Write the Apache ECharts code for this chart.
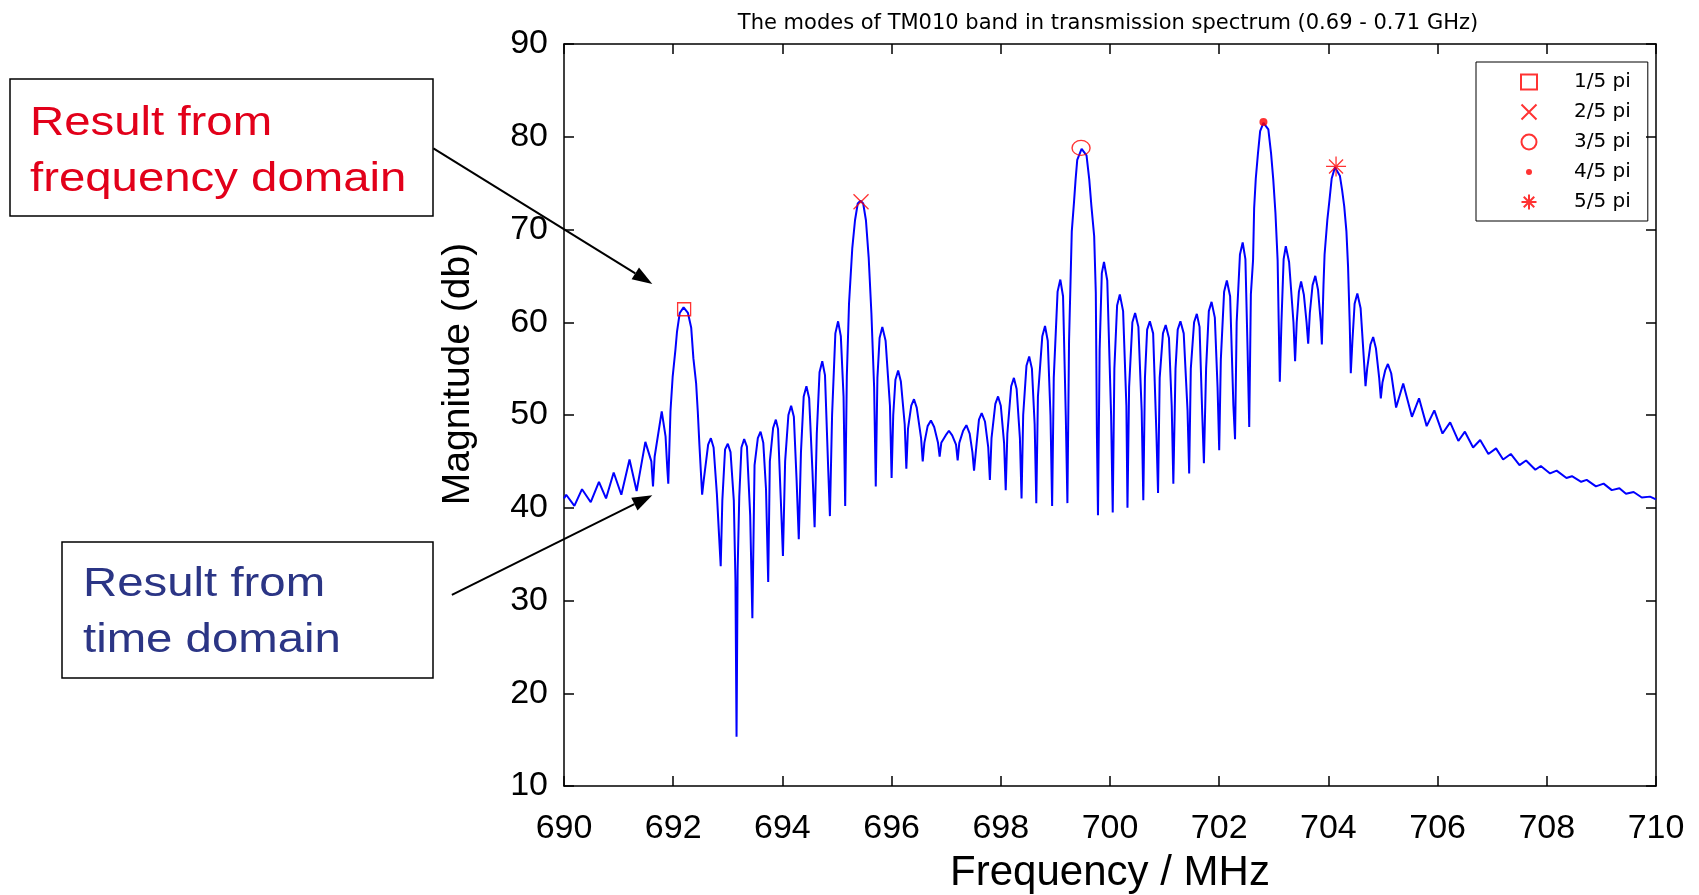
<!DOCTYPE html>
<html><head><meta charset="utf-8">
<script src="https://cdn.jsdelivr.net/npm/echarts@6/dist/echarts.min.js"></script>
<style>html,body{margin:0;padding:0;background:#fff}#c{width:1699px;height:895px}</style>
</head><body><div id="c"></div>
<script>
// Transmission spectrum (frequency in MHz, magnitude in dB)
const freq = [
690.00,690.04,690.19,690.33,690.49,690.64,690.77,690.91,691.05,691.20,
691.33,691.49,691.60,691.63,691.66,691.79,691.86,691.89,691.91,691.95,
691.99,692.04,692.07,692.12,692.19,692.27,692.33,692.37,692.42,692.45,
692.48,692.53,692.56,692.64,692.69,692.74,692.80,692.84,692.87,692.90,
692.95,693.00,693.05,693.11,693.14,693.16,693.18,693.21,693.25,693.30,
693.35,693.41,693.45,693.49,693.55,693.60,693.65,693.70,693.74,693.77,
693.83,693.88,693.92,693.97,694.01,694.05,694.11,694.16,694.21,694.26,
694.30,694.34,694.39,694.44,694.49,694.55,694.59,694.63,694.68,694.73,
694.78,694.84,694.87,694.91,694.97,695.02,695.07,695.12,695.15,695.18,
695.22,695.28,695.33,695.38,695.43,695.48,695.53,695.58,695.63,695.68,
695.71,695.74,695.78,695.83,695.89,695.97,696.00,696.03,696.07,696.12,
696.17,696.24,696.27,696.30,696.36,696.41,696.46,696.54,696.57,696.60,
696.66,696.72,696.78,696.85,696.88,696.91,696.99,697.05,697.11,697.18,
697.21,697.24,697.31,697.37,697.43,697.48,697.51,697.55,697.60,697.65,
697.71,697.77,697.80,697.83,697.90,697.95,698.00,698.06,698.09,698.12,
698.19,698.24,698.29,698.35,698.38,698.41,698.47,698.52,698.57,698.62,
698.65,698.68,698.76,698.81,698.86,698.91,698.94,698.97,699.04,699.09,
699.14,699.19,699.22,699.25,699.30,699.34,699.37,699.40,699.48,699.57,
699.62,699.66,699.71,699.74,699.76,699.78,699.81,699.85,699.89,699.95,
700.02,700.05,700.08,700.13,700.18,700.24,700.30,700.32,700.35,700.41,
700.46,700.52,700.58,700.61,700.64,700.68,700.73,700.79,700.85,700.88,
700.91,700.97,701.02,701.08,701.13,701.16,701.20,701.24,701.29,701.35,
701.42,701.45,701.48,701.54,701.59,701.64,701.69,701.72,701.76,701.81,
701.86,701.92,701.97,702.00,702.03,702.09,702.14,702.20,702.26,702.29,
702.32,702.38,702.43,702.48,702.52,702.55,702.58,702.62,702.64,702.67,
702.71,702.75,702.81,702.90,702.95,702.99,703.03,703.07,703.09,703.11,
703.14,703.18,703.22,703.28,703.36,703.39,703.42,703.46,703.50,703.55,
703.60,703.63,703.66,703.71,703.76,703.81,703.86,703.88,703.91,703.93,
703.98,704.02,704.06,704.12,704.21,704.25,704.29,704.33,704.36,704.39,
704.41,704.44,704.48,704.53,704.59,704.65,704.68,704.71,704.77,704.82,
704.87,704.93,704.96,704.99,705.04,705.09,705.15,705.24,705.37,705.53,
705.66,705.80,705.94,706.09,706.23,706.38,706.50,706.65,706.78,706.93,
707.07,707.20,707.34,707.50,707.62,707.79,707.89,708.06,708.18,708.36,
708.46,708.63,708.73,708.90,709.04,709.19,709.33,709.45,709.59,709.74,
709.89,710.00
];
const mag = [
41.0,41.4,40.2,42.0,40.6,42.8,41.0,43.8,41.4,45.2,
41.8,47.1,45.0,42.3,45.5,50.4,47.7,44.4,42.6,50.4,
54.1,57.0,59.0,61.0,61.6,61.0,59.4,56.1,53.4,50.4,
46.8,41.4,43.0,46.8,47.5,46.5,41.5,37.0,33.7,40.8,
46.3,46.9,46.0,40.8,32.2,15.3,33.3,41.2,46.5,47.4,
46.6,39.2,28.1,44.6,47.5,48.2,47.0,42.0,32.0,45.0,
48.6,49.5,48.5,41.0,34.8,45.0,50.0,51.0,49.8,43.0,
36.6,46.0,52.0,53.1,51.8,44.0,37.9,48.0,54.6,55.8,
54.3,44.0,39.1,50.0,58.8,60.1,58.5,52.0,40.2,54.2,
62.0,68.0,71.0,72.8,73.1,72.8,71.0,67.0,61.0,53.0,
42.3,54.0,58.3,59.5,58.0,51.0,43.2,50.0,53.8,54.8,
53.6,49.0,44.2,48.5,51.0,51.7,50.8,47.5,45.0,47.0,
48.8,49.4,48.7,47.0,45.5,47.0,47.8,48.3,47.8,46.8,
45.1,47.0,48.3,48.9,48.0,46.0,44.0,46.5,49.5,50.2,
49.3,46.5,43.0,47.5,51.2,52.0,51.0,47.0,41.9,48.0,
53.1,54.0,52.8,47.5,41.0,50.0,55.3,56.3,55.0,49.0,
40.5,52.0,58.5,59.6,58.0,50.0,40.2,54.0,63.3,64.6,
62.8,50.0,40.5,58.0,69.8,72.9,75.4,77.5,78.7,78.0,
75.4,72.5,69.3,63.2,48.0,39.2,57.0,65.3,66.5,64.5,
50.0,39.5,55.0,61.8,63.0,61.2,51.0,40.0,53.0,60.0,
61.0,59.5,50.5,40.8,54.0,59.2,60.1,58.8,48.0,41.6,
54.0,58.8,59.7,58.3,51.0,42.6,55.0,59.2,60.1,58.8,
50.5,43.7,55.0,60.0,60.9,59.5,50.0,44.8,55.0,61.2,
62.2,60.5,53.0,46.2,56.0,63.3,64.5,62.8,51.0,47.4,
60.0,67.3,68.6,66.8,57.0,48.7,63.0,66.7,72.3,75.5,
78.2,80.6,81.5,80.8,78.2,75.4,71.8,66.7,60.0,53.6,
60.0,66.8,68.2,66.5,60.0,55.8,60.0,63.3,64.4,63.0,
60.0,57.7,61.0,64.0,65.0,63.5,60.0,57.6,64.0,67.3,
71.0,73.2,75.5,76.7,75.8,74.3,72.5,69.8,66.0,60.0,
54.5,58.0,62.0,63.1,61.5,56.0,53.1,55.0,57.6,58.4,
57.2,54.0,51.8,53.5,54.8,55.5,54.5,50.8,53.4,49.8,
51.8,48.8,50.5,48.0,49.2,47.2,48.2,46.5,47.3,45.8,
46.4,45.2,45.8,44.6,45.1,44.1,44.5,43.7,44.0,43.2,
43.4,42.8,43.0,42.3,42.6,41.9,42.1,41.5,41.7,41.1,
41.2,40.9
];
// Identified TM010 modes
const modeNames = ['1/5 pi','2/5 pi','3/5 pi','4/5 pi','5/5 pi'];
const modeFreq = [692.20, 695.44, 699.47, 702.81, 704.14];
const modeMag = [61.4, 73.0, 78.8, 81.6, 76.8];
// Axis ranges / ticks
const xMin = 690, xMax = 710, xStep = 2;
const yMin = 10, yMax = 90, yStep = 10;

const spectrum = freq.map((f, i) => [f, mag[i]]);
const RED = '#ff0000';
const outline = { color: 'transparent', borderColor: RED, borderWidth: 1.3 };
const modeSymbols = [
  { symbol: 'rect', symbolSize: 13, itemStyle: outline },
  { symbol: 'path://M0,0L10,10M10,0L0,10', symbolSize: 15, itemStyle: outline },
  { symbol: 'circle', symbolSize: [18, 15], itemStyle: outline },
  { symbol: 'circle', symbolSize: 8, itemStyle: { color: RED } },
  { symbol: 'path://M5,0L5,10M0,5L10,5M1.5,1.5L8.5,8.5M8.5,1.5L1.5,8.5', symbolSize: 20, itemStyle: outline }
];
const legendIcons = [null, null, null, 'path://M0,0M20,20M10,6A4,4,0,1,1,10,14A4,4,0,1,1,10,6Z', null];

const chart = echarts.init(document.getElementById('c'), null, { renderer: 'canvas' });
const axisCommonX = {
  type: 'value', min: xMin, max: xMax, interval: xStep,
  axisLine: { show: true, onZero: false, lineStyle: { color: '#000', width: 1.5 } },
  axisTick: { show: true, inside: true, length: 10, lineStyle: { color: '#000', width: 1.5 } },
  splitLine: { show: false }
};
const axisCommonY = {
  type: 'value', min: yMin, max: yMax, interval: yStep,
  axisLine: { show: true, onZero: false, lineStyle: { color: '#000', width: 1.5 } },
  axisTick: { show: true, inside: true, length: 10, lineStyle: { color: '#000', width: 1.5 } },
  splitLine: { show: false }
};
const tickFont = { fontFamily: 'Liberation Sans', fontSize: 34, color: '#000' };

chart.setOption({
  animation: false,
  backgroundColor: '#fff',
  title: {
    text: 'The modes of TM010 band in transmission spectrum (0.69 - 0.71 GHz)',
    left: 1103, top: 8, textAlign: 'center',
    textStyle: { fontFamily: 'DejaVu Sans', fontSize: 21, fontWeight: 'normal', color: '#000' }
  },
  grid: { left: 564, right: 43, top: 44, bottom: 109, containLabel: false, outerBoundsMode: 'none' },
  legend: {
    orient: 'vertical', left: 1476, top: 62,
    data: modeNames.map((n, i) => legendIcons[i] ? { name: n, icon: legendIcons[i] } : n),
    padding: [10, 17, 9, 44],
    itemWidth: 16, itemHeight: 15, itemGap: 10,
    borderColor: '#000', borderWidth: 1,
    textStyle: { fontFamily: 'DejaVu Sans', fontSize: 20, color: '#000', padding: [0, 0, 0, 32] }
  },
  xAxis: [
    Object.assign({}, axisCommonX, {
      position: 'bottom',
      axisLabel: Object.assign({ margin: 26 }, tickFont),
      name: 'Frequency / MHz', nameLocation: 'middle', nameGap: 66,
      nameTextStyle: { fontFamily: 'Liberation Sans', fontSize: 42, color: '#000' }
    }),
    Object.assign({}, axisCommonX, { position: 'top', axisLabel: { show: false } })
  ],
  yAxis: [
    Object.assign({}, axisCommonY, {
      position: 'left',
      axisLabel: Object.assign({ margin: 16 }, tickFont),
      name: 'Magnitude (db)', nameLocation: 'middle', nameGap: 86, nameRotate: 90,
      nameTextStyle: { fontFamily: 'Liberation Sans', fontSize: 39, color: '#000', padding: [0, 0, 0, 82] }
    }),
    Object.assign({}, axisCommonY, { position: 'right', axisLabel: { show: false } })
  ],
  series: [
    {
      name: 'spectrum', type: 'line', data: spectrum, showSymbol: false, symbol: 'none',
      lineStyle: { color: '#0000ff', width: 2 }, z: 2
    }
  ].concat(modeNames.map((n, i) => Object.assign({
    name: n, type: 'scatter', data: [[modeFreq[i], modeMag[i]]], z: 5
  }, modeSymbols[i]))),
  graphic: [
    { type: 'rect', shape: { x: 10, y: 79, width: 423, height: 137 }, style: { fill: 'transparent', stroke: '#000', lineWidth: 1.5 } },
    { type: 'text', x: 30, y: 124, scaleX: 1.155, style: { text: 'Result from', fontFamily: 'Liberation Sans', fontSize: 41, fill: '#e2001a', verticalAlign: 'middle' } },
    { type: 'text', x: 30, y: 180, scaleX: 1.155, style: { text: 'frequency domain', fontFamily: 'Liberation Sans', fontSize: 41, fill: '#e2001a', verticalAlign: 'middle' } },
    { type: 'rect', shape: { x: 62, y: 542, width: 371, height: 136 }, style: { fill: 'transparent', stroke: '#000', lineWidth: 1.5 } },
    { type: 'text', x: 83, y: 585, scaleX: 1.155, style: { text: 'Result from', fontFamily: 'Liberation Sans', fontSize: 41, fill: '#2b3585', verticalAlign: 'middle' } },
    { type: 'text', x: 83, y: 641, scaleX: 1.155, style: { text: 'time domain', fontFamily: 'Liberation Sans', fontSize: 41, fill: '#2b3585', verticalAlign: 'middle' } },
    { type: 'line', shape: { x1: 433.4, y1: 148.4, x2: 635.3, y2: 273.4 }, style: { stroke: '#000', lineWidth: 2 } },
    { type: 'polygon', shape: { points: [[652.3, 283.9], [631.6, 279.3], [639.0, 267.4]] }, style: { fill: '#000' } },
    { type: 'line', shape: { x1: 451.9, y1: 594.9, x2: 634.4, y2: 504.1 }, style: { stroke: '#000', lineWidth: 2 } },
    { type: 'polygon', shape: { points: [[652.3, 495.2], [637.5, 510.4], [631.3, 497.8]] }, style: { fill: '#000' } }
  ]
});
</script></body></html>
